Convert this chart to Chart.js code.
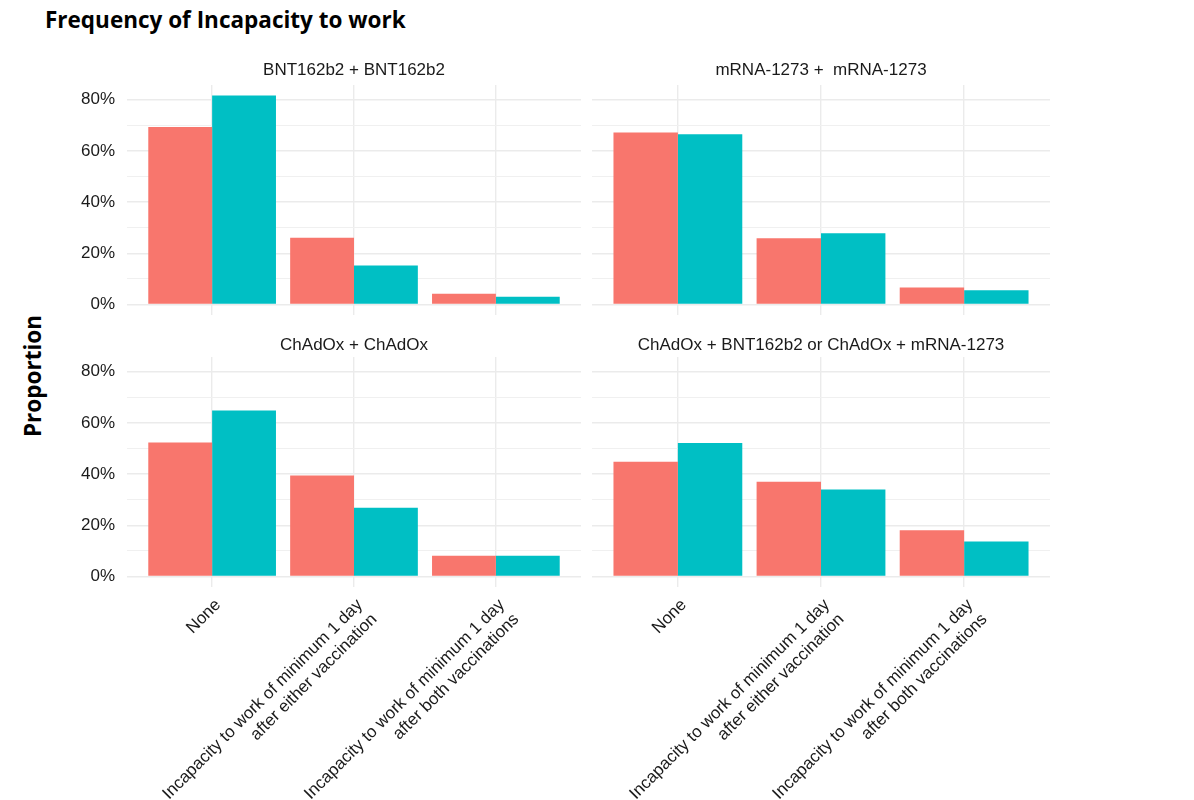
<!DOCTYPE html>
<html>
<head>
<meta charset="utf-8">
<script src="https://cdn.jsdelivr.net/npm/chart.js@4"></script>
<style>
  body { margin: 0; background: #fff; }
  #page { position: relative; width: 1194px; height: 800px; overflow: hidden; }
  canvas { position: absolute; }
  #mainTitle { position: absolute; left: 45px; top: 4px; font: bold 22.5px "Open Sans", Lato, sans-serif; color: #000; }
  #yTitle { position: absolute; left: 32px; top: 376px; transform: translate(-50%, -50%) rotate(-90deg);
            font: bold 22.5px "Open Sans", Lato, sans-serif; color: #000; white-space: nowrap; }
</style>
</head>
<body>
<div id="page">
  <div id="mainTitle">Frequency of Incapacity to work</div>
  <div id="yTitle">Proportion</div>
  <canvas id="c0" width="590" height="282" style="left:0;top:40px"></canvas>
  <canvas id="c1" width="470" height="282" style="left:590px;top:40px"></canvas>
  <canvas id="c2" width="590" height="478" style="left:0;top:322px"></canvas>
  <canvas id="c3" width="470" height="478" style="left:590px;top:322px"></canvas>
</div>
<script>
// categories on the x axis (positions 1..3)
const categories = [
  "None",
  ["Incapacity to work of minimum 1 day", "after either vaccination"],
  ["Incapacity to work of minimum 1 day", "after both vaccinations"]
];
const panelTitles = [
  "BNT162b2 + BNT162b2",
  "mRNA-1273 +  mRNA-1273",
  "ChAdOx + ChAdOx",
  "ChAdOx + BNT162b2 or ChAdOx + mRNA-1273"
];
// proportions in %, red series / teal series
const bntRed = [69.3, 26.1, 4.2];
const bntTeal = [81.6, 15.2, 3.0];
const mrnaRed = [67.2, 25.9, 6.6];
const mrnaTeal = [66.5, 27.8, 5.6];
const chadRed = [52.3, 39.4, 8.1];
const chadTeal = [64.8, 26.8, 8.1];
const mixRed = [44.8, 37.0, 18.1];
const mixTeal = [52.1, 34.0, 13.7];
const yTicks = [0, 10, 20, 30, 40, 50, 60, 70, 80];

const RED = "#F8766D";
const TEAL = "#00BFC4";
const GRID = "#EBEBEB";

function toPoints(arr) {
  return arr.map((v, i) => ({x: i + 1, y: v}));
}

function makePanel(id, title, red, teal, showY, showX) {
  const ctx = document.getElementById(id).getContext("2d");
  new Chart(ctx, {
    type: "bar",
    data: {
      datasets: [
        {label: "red", data: toPoints(red), backgroundColor: RED, borderWidth: 0,
         categoryPercentage: 0.9, barPercentage: 1.0},
        {label: "teal", data: toPoints(teal), backgroundColor: TEAL, borderWidth: 0,
         categoryPercentage: 0.9, barPercentage: 1.0}
      ]
    },
    options: {
      responsive: false,
      animation: false,
      layout: {autoPadding: false, padding: {left: 0, right: showY ? 9 : 10, top: 0, bottom: 0}},
      plugins: {
        legend: {display: false},
        tooltip: {enabled: false},
        title: {
          display: true,
          text: title,
          fullSize: false,
          color: "#1a1a1a",
          font: {family: "'Liberation Sans', Arial, sans-serif", size: 17, weight: "normal", lineHeight: 1.2},
          padding: showX ? {top: 12.8, bottom: 1.8} : {top: 20, bottom: 4.6}
        }
      },
      scales: {
        x: {
          type: "linear",
          min: 0.4,
          max: 3.6,
          offset: false,
          afterBuildTicks: (s) => { s.ticks = [1, 2, 3].map(v => ({value: v})); },
          afterFit: (s) => {
            s.height = showX ? 213 : 7;
            s.paddingLeft = 0; s.paddingRight = 0;
          },
          border: {display: false},
          grid: {color: GRID, lineWidth: 1.4, drawTicks: false, offset: false},
          ticks: {
            display: showX,
            autoSkip: false,
            minRotation: 45,
            maxRotation: 45,
            padding: 8,
            labelOffset: 6,
            color: "#1a1a1a",
            font: {family: "'Liberation Sans', Arial, sans-serif", size: 17},
            callback: (v) => categories[v - 1]
          }
        },
        y: {
          min: -4.1,
          max: 85.7,
          afterBuildTicks: (s) => { s.ticks = yTicks.map(v => ({value: v})); },
          afterFit: (s) => {
            s.width = showY ? 127 : 2;
            s.paddingTop = 0; s.paddingBottom = 0;
          },
          border: {display: false},
          grid: {
            drawTicks: false,
            color: (c) => c.tick && c.tick.value % 20 === 0 ? GRID : "#F0F0F0",
            lineWidth: (c) => c.tick && c.tick.value % 20 === 0 ? 1.4 : 1
          },
          ticks: {
            display: showY,
            padding: 12,
            color: "#1a1a1a",
            font: {family: "'Liberation Sans', Arial, sans-serif", size: 17},
            callback: (v) => v % 20 === 0 ? v + "%" : ""
          }
        }
      }
    }
  });
}

makePanel("c0", panelTitles[0], bntRed, bntTeal, true, false);
makePanel("c1", panelTitles[1], mrnaRed, mrnaTeal, false, false);
makePanel("c2", panelTitles[2], chadRed, chadTeal, true, true);
makePanel("c3", panelTitles[3], mixRed, mixTeal, false, true);
</script>
</body>
</html>
